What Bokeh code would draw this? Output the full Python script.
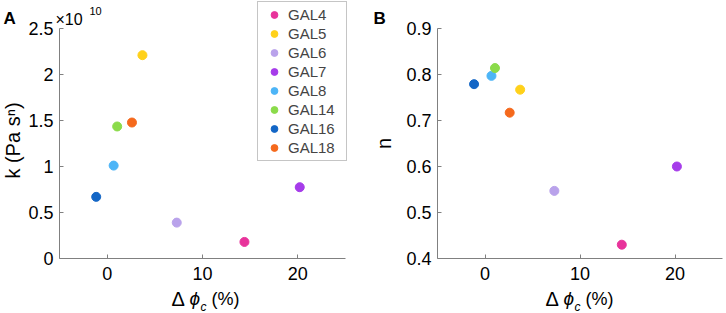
import math
from bokeh.plotting import figure
from bokeh.layouts import row
from bokeh.models import Label, Legend, LegendItem, FixedTicker, Range1d
from bokeh.embed import file_html
from bokeh.resources import INLINE

names = ["GAL4", "GAL5", "GAL6", "GAL7", "GAL8", "GAL14", "GAL16", "GAL18"]
colors = ["#E8339B", "#FFD11A", "#B9A2EB", "#A63CEA", "#4DB5F7", "#8BDB4A", "#1366C6", "#F5691C"]
dphi = [14.4, 3.7, 7.3, 20.2, 0.68, 1.05, -1.15, 2.6]
k_1e10 = [0.18, 2.21, 0.39, 0.775, 1.01, 1.435, 0.67, 1.478]
n_vals = [0.43, 0.767, 0.547, 0.60, 0.797, 0.814, 0.779, 0.717]

x_lim = (-5, 25)
k_lim = (0, 2.5)
n_lim = (0.4, 0.9)
x_ticks = [0, 10, 20]
k_ticks = [0, 0.5, 1, 1.5, 2, 2.5]
k_tick_labels = ["0", "0.5", "1", "1.5", "2", "2.5"]
n_ticks = [0.4, 0.5, 0.6, 0.7, 0.8, 0.9]
n_tick_labels = ["0.4", "0.5", "0.6", "0.7", "0.8", "0.9"]

FONT = "Liberation Sans"
AX = "#808080"
H = 313


def span(lo, hi, p_lo, p_hi, total):
    # data range covering the whole canvas so that [lo, hi] maps to pixels [p_lo, p_hi]
    scale = (hi - lo) / (p_hi - p_lo)
    return Range1d(lo - p_lo * scale, hi + (total - p_hi) * scale)


def make_fig(width, px_left, px_right, ylim):
    xr = span(x_lim[0], x_lim[1], px_left, px_right, width)
    yr = span(ylim[0], ylim[1], H - 258, H - 28, H)
    p = figure(width=width, height=H, output_backend="svg", toolbar_location=None,
               x_range=xr, y_range=yr, min_border=0,
               min_border_left=0, min_border_right=0, min_border_top=0, min_border_bottom=0)
    p.outline_line_color = None
    p.xgrid.visible = False
    p.ygrid.visible = False
    p.background_fill_color = "white"
    p.border_fill_color = "white"
    xa, ya = p.xaxis[0], p.yaxis[0]
    xa.fixed_location = ylim[0]
    ya.fixed_location = x_lim[0]
    xa.bounds = x_lim
    ya.bounds = ylim
    for ax in (xa, ya):
        ax.axis_line_color = AX
        ax.major_tick_line_color = AX
        ax.major_tick_in = 4
        ax.major_tick_out = 0
        ax.minor_tick_line_color = None
        ax.major_label_text_font = FONT
        ax.major_label_text_font_size = "18px"
        ax.major_label_text_color = "black"
    xa.ticker = FixedTicker(ticks=x_ticks)
    xa.major_label_standoff = 8
    ya.major_label_standoff = 6
    return p


def add_text(p, x, y_top, text, size="18px", style_="normal", angle=0, align="left"):
    p.add_layout(Label(x=x, y=H - y_top, x_units="screen", y_units="screen", text=text,
                       text_font=FONT, text_font_size=size, text_font_style=style_,
                       angle=angle, text_align=align, text_baseline="alphabetic",
                       text_color="black"))


def xlabel(p, x0):
    add_text(p, x0, 298, "Δ", size="20px")
    add_text(p, x0 + 18, 298, "ϕ", size="19px", style_="italic")
    add_text(p, x0 + 29, 306, "c", size="12px", style_="italic")
    add_text(p, x0 + 40, 298, "(%)", size="18px")


# Panel A
p1 = make_fig(363, 59, 345, k_lim)
p1.yaxis.ticker = FixedTicker(ticks=k_ticks)
p1.yaxis.major_label_overrides = {t: s for t, s in zip(k_ticks, k_tick_labels)}
items = []
for nm, c, x, y in zip(names, colors, dphi, k_1e10):
    r = p1.scatter([x], [y], size=9, fill_color=c, line_color=c)
    items.append(LegendItem(label=nm, renderers=[r]))
leg = Legend(items=items, location=(257, H - 161), label_text_font=FONT, label_text_font_size="15px",
             glyph_width=24, glyph_height=17, label_height=17, label_width=54, label_standoff=2,
             spacing=2, padding=4, margin=0, border_line_color="#8C8C8C", border_line_width=1,
             background_fill_alpha=1)
p1.add_layout(leg, "center")
xlabel(p1, 171)
add_text(p1, 12, 140, "k (Pa sⁿ)", size="20px", angle=math.pi / 2, align="center")
add_text(p1, 55, 19, "×10", size="16px")
add_text(p1, 89, 10, "10", size="11px")
add_text(p1, 3, 18, "A", size="17px", style_="bold")

# Panel B
p2 = make_fig(362, 74, 359, n_lim)
p2.yaxis.ticker = FixedTicker(ticks=n_ticks)
p2.yaxis.major_label_overrides = {t: s for t, s in zip(n_ticks, n_tick_labels)}
for c, x, y in zip(colors, dphi, n_vals):
    p2.scatter([x], [y], size=9, fill_color=c, line_color=c)
xlabel(p2, 182)
add_text(p2, 20, 143, "n", size="20px", angle=math.pi / 2, align="center")
add_text(p2, 10, 18, "B", size="17px", style_="bold")

layout = row(p1, p2, spacing=0)
open("out.html", "w").write(file_html(layout, INLINE))
